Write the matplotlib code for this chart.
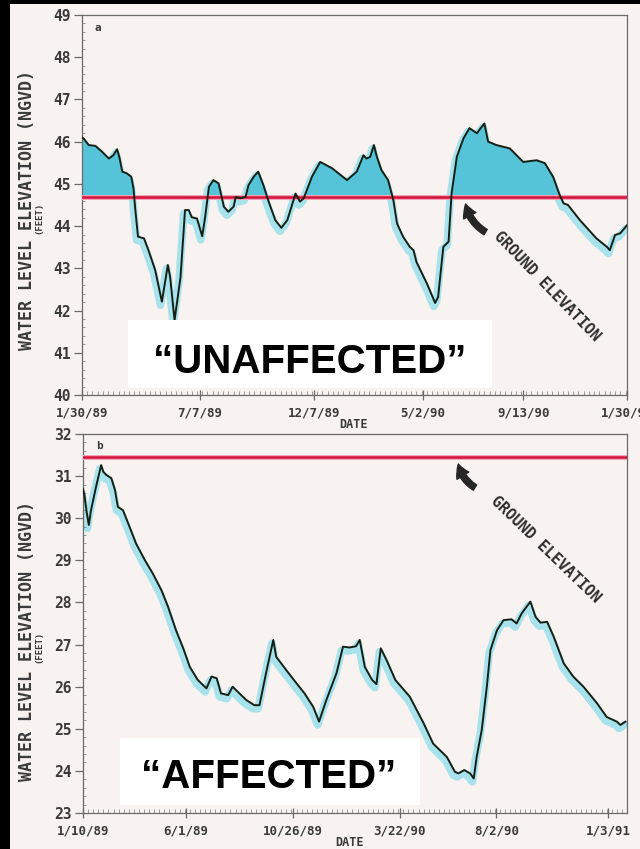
import matplotlib
matplotlib.use("Agg")
import matplotlib.pyplot as plt
import matplotlib.dates as mdates
import matplotlib.transforms as mtransforms
from matplotlib.patches import Rectangle
import pandas as pd
import numpy as np

# ---------------- data ----------------
top_start = "1989-01-30"
top_end_days = 730
top_days = [0, 2, 9, 18, 27, 36, 42, 47, 50, 54, 60, 66, 69, 71, 75, 83, 89, 98, 107, 115,
            118, 124, 132, 138, 143, 147, 154, 161, 165, 170, 176, 183, 190, 196, 203, 206, 212, 219, 223, 230,
            236, 243, 250, 259, 267, 275, 286, 292, 297, 308, 319, 335, 355, 368, 377, 381, 386, 391, 395, 401,
            410, 417, 422, 430, 439, 444, 448, 462, 473, 477, 484, 491, 495, 502, 511, 519, 529, 534, 539, 544,
            555, 573, 591, 609, 620, 631, 640, 645, 651, 667, 689, 703, 707, 714, 721, 730]
top_levels = [46.10, 46.08, 45.92, 45.90, 45.76, 45.60, 45.68, 45.82, 45.64, 45.29,
              45.25, 45.17, 44.89, 44.46, 43.75, 43.71, 43.43, 42.96, 42.21, 43.08,
              42.80, 41.77, 42.80, 44.38, 44.38, 44.21, 44.18, 43.76, 44.22, 44.93,
              45.09, 45.01, 44.46, 44.34, 44.46, 44.69, 44.66, 44.69, 44.97, 45.17,
              45.29, 44.97, 44.58, 44.14, 43.96, 44.14, 44.77, 44.58, 44.66, 45.17,
              45.52, 45.37, 45.09, 45.29, 45.68, 45.60, 45.64, 45.92, 45.64, 45.33,
              45.09, 44.62, 44.06, 43.75, 43.51, 43.43, 43.15, 42.64, 42.18, 42.32,
              43.51, 43.63, 44.77, 45.64, 46.08, 46.32, 46.20, 46.32, 46.43, 46.00,
              45.92, 45.84, 45.52, 45.56, 45.49, 45.17, 44.73, 44.54, 44.50, 44.14,
              43.71, 43.51, 43.43, 43.79, 43.83, 44.02]
top_ground = 44.7
top_tick_dates = ["1989-01-30", "1989-07-07", "1989-12-07", "1990-05-02", "1990-09-13", "1991-01-30"]
top_tick_labels = ["1/30/89", "7/7/89", "12/7/89", "5/2/90", "9/13/90", "1/30/91"]
top_yticks = [40, 41, 42, 43, 44, 45, 46, 47, 48, 49]

bot_start = "1989-01-10"
bot_end_days = 749
bot_days = [0, 2, 5, 8, 11, 18, 25, 28, 32, 39, 44, 48, 55, 64, 73, 85, 96, 108, 117, 128,
            138, 147, 158, 170, 177, 184, 190, 200, 206, 213, 225, 236, 243, 252, 262, 266, 280, 294, 305, 317,
            325, 335, 349, 358, 367, 376, 381, 388, 398, 404, 410, 418, 430, 450, 469, 482, 501, 512, 517, 525,
            533, 538, 542, 549, 556, 561, 570, 579, 590, 597, 604, 616, 623, 630, 639, 648, 662, 675, 689, 708,
            721, 735, 740, 747]
bot_levels = [30.70, 30.55, 30.15, 29.84, 30.19, 30.75, 31.26, 31.10, 31.03, 30.95,
              30.67, 30.27, 30.19, 29.80, 29.40, 29.01, 28.69, 28.29, 27.90, 27.34,
              26.91, 26.47, 26.16, 25.96, 26.24, 26.20, 25.84, 25.80, 26.00, 25.88,
              25.68, 25.56, 25.56, 26.32, 27.11, 26.71, 26.39, 26.08, 25.84, 25.52,
              25.17, 25.68, 26.32, 26.95, 26.93, 26.96, 27.11, 26.47, 26.16, 26.06,
              26.91, 26.63, 26.16, 25.76, 25.13, 24.65, 24.33, 23.98, 23.94, 24.02,
              23.94, 23.82, 24.33, 24.97, 26.00, 26.87, 27.34, 27.58, 27.60, 27.50,
              27.74, 28.02, 27.66, 27.52, 27.54, 27.19, 26.55, 26.24, 26.00, 25.60,
              25.28, 25.17, 25.09, 25.17]
bot_ground = 31.45
bot_tick_dates = ["1989-01-10", "1989-06-01", "1989-10-26", "1990-03-22", "1990-08-02", "1991-01-03"]
bot_tick_labels = ["1/10/89", "6/1/89", "10/26/89", "3/22/90", "8/2/90", "1/3/91"]
bot_yticks = [23, 24, 25, 26, 27, 28, 29, 30, 31, 32]

# ---------------- style ----------------
PAPER = "#f8f2f0"
INK = "#3a3a3a"
LINE = "#142014"
RED = "#d3123c"
FILL = "#55c4d9"
HALO = "#a8e2ec"
MONO = "DejaVu Sans Mono"

fig = plt.figure(figsize=(6.4, 8.49), dpi=100, facecolor="black")
fig.patches.append(Rectangle((10 / 640, 0), 1 - 10 / 640, 1 - 4 / 849,
                             transform=fig.transFigure, facecolor=PAPER,
                             edgecolor="none", zorder=-10))


def to_dates(start, days):
    return pd.Timestamp(start) + pd.to_timedelta(np.asarray(days, dtype=float), unit="D")


def setup_axis(ax, start, end_days, yticks, tick_dates, tick_labels):
    x0 = pd.Timestamp(start)
    x1 = x0 + pd.Timedelta(days=end_days)
    ax.set_xlim(x0, x1)
    ax.set_ylim(yticks[0], yticks[-1])
    ax.set_facecolor(PAPER)
    for s in ax.spines.values():
        s.set_color("#6a6a6a")
        s.set_linewidth(0.9)
    ax.set_yticks(yticks)
    ax.set_yticklabels([str(v) for v in yticks])
    ax.yaxis.set_minor_locator(matplotlib.ticker.MultipleLocator(0.2))
    ax.set_xticks(pd.to_datetime(tick_dates))
    ax.set_xticklabels(tick_labels)
    minors = pd.date_range(x0, x1, freq="7D")
    ax.xaxis.set_minor_locator(matplotlib.ticker.FixedLocator(mdates.date2num(minors)))
    ax.tick_params(axis="y", which="major", direction="out", length=6, width=0.9,
                   color="#6a6a6a", labelsize=10.5, labelcolor=INK, pad=2)
    ax.tick_params(axis="y", which="minor", direction="in", length=2, width=0.6, color="#8a8a8a")
    ax.tick_params(axis="x", which="major", direction="inout", length=7, width=0.9,
                   color="#6a6a6a", labelsize=9, labelcolor=INK, pad=5)
    ax.tick_params(axis="x", which="minor", direction="in", length=3, width=0.6, color="#8a8a8a")
    for lab in ax.get_xticklabels() + ax.get_yticklabels():
        lab.set_family(MONO)
        lab.set_fontweight("bold")


def draw_series(ax, dates, vals, ground, fill_above):
    halo_tr = ax.transData + mtransforms.ScaledTranslation(-1 / 72, -2.5 / 72, fig.dpi_scale_trans)
    ax.plot(dates, vals, color=HALO, lw=5.5, solid_capstyle="round", transform=halo_tr, zorder=1)
    if fill_above:
        ax.fill_between(dates, vals, ground, where=np.asarray(vals) > ground,
                        interpolate=True, color=FILL, lw=0, zorder=2)
    ax.axhline(ground, color="#f3a3b6", lw=3.6, zorder=3)
    ax.axhline(ground, color=RED, lw=1.8, zorder=4)
    ax.plot(dates, vals, color=LINE, lw=1.4, zorder=5)


# ---- top panel ----
ax1 = fig.add_axes([82 / 640, 1 - 395 / 849, 545 / 640, 380 / 849])
setup_axis(ax1, top_start, top_end_days, top_yticks, top_tick_dates, top_tick_labels)
draw_series(ax1, to_dates(top_start, top_days), top_levels, top_ground, True)
ax1.text(0.03, 0.965, "a", transform=ax1.transAxes, family=MONO, fontweight="bold",
         fontsize=8, color=INK, ha="center", va="center")

# ---- bottom panel ----
ax2 = fig.add_axes([83 / 640, 1 - 813 / 849, 544 / 640, 379 / 849])
setup_axis(ax2, bot_start, bot_end_days, bot_yticks, bot_tick_dates, bot_tick_labels)
draw_series(ax2, to_dates(bot_start, bot_days), bot_levels, bot_ground, False)
ax2.text(0.031, 0.968, "b", transform=ax2.transAxes, family=MONO, fontweight="bold",
         fontsize=8, color=INK, ha="center", va="center")

# ---- axis labels ----
for yc, yf in [(210, 218), (641, 647)]:
    fig.text(27 / 640, 1 - yc / 849, "WATER LEVEL ELEVATION (NGVD)", rotation=90,
             family=MONO, fontweight="bold", fontsize=12, color=INK, ha="center", va="center")
    fig.text(39 / 640, 1 - yf / 849, "(FEET)", rotation=90,
             family=MONO, fontweight="bold", fontsize=6.5, color=INK, ha="center", va="center")
fig.text(354 / 640, 1 - 425 / 849, "DATE", family=MONO, fontweight="bold", fontsize=8.5,
         color=INK, ha="center", va="center")
fig.text(349 / 640, 1 - 843 / 849, "DATE", family=MONO, fontweight="bold", fontsize=8.5,
         color=INK, ha="center", va="center")

# ---- ground elevation annotations ----
arrow_kw = dict(arrowstyle="simple,head_width=1.0,head_length=0.9,tail_width=0.45",
                color="#262626", connectionstyle="arc3,rad=-0.25", mutation_scale=10)
ax1.annotate("", xy=(0.703, 0.51), xytext=(0.745, 0.425), xycoords="axes fraction",
             arrowprops=arrow_kw, zorder=6)
ax1.text(0.853, 0.285, "GROUND ELEVATION", transform=ax1.transAxes, rotation=-46,
         rotation_mode="anchor", family=MONO, fontweight="bold", fontsize=11,
         color="#2e2e2e", ha="center", va="center")
ax2.annotate("", xy=(0.689, 0.928), xytext=(0.725, 0.855), xycoords="axes fraction",
             arrowprops=arrow_kw, zorder=6)
ax2.text(0.851, 0.695, "GROUND ELEVATION", transform=ax2.transAxes, rotation=-44,
         rotation_mode="anchor", family=MONO, fontweight="bold", fontsize=11,
         color="#2e2e2e", ha="center", va="center")

# ---- white caption boxes ----
fig.patches.append(Rectangle((128 / 640, 1 - 388 / 849), 364 / 640, 68 / 849,
                             transform=fig.transFigure, facecolor="white",
                             edgecolor="none", zorder=20))
fig.text(310 / 640, 1 - 373 / 849, "\u201cUNAFFECTED\u201d", family="Liberation Sans",
         fontweight="bold", fontsize=29, color="black", ha="center", va="baseline", zorder=21)
fig.patches.append(Rectangle((120 / 640, 1 - 805 / 849), 300 / 640, 67 / 849,
                             transform=fig.transFigure, facecolor="white",
                             edgecolor="none", zorder=20))
fig.text(269 / 640, 1 - 788 / 849, "\u201cAFFECTED\u201d", family="Liberation Sans",
         fontweight="bold", fontsize=29, color="black", ha="center", va="baseline", zorder=21)

fig.savefig("out.png", dpi=100, facecolor=fig.get_facecolor())
